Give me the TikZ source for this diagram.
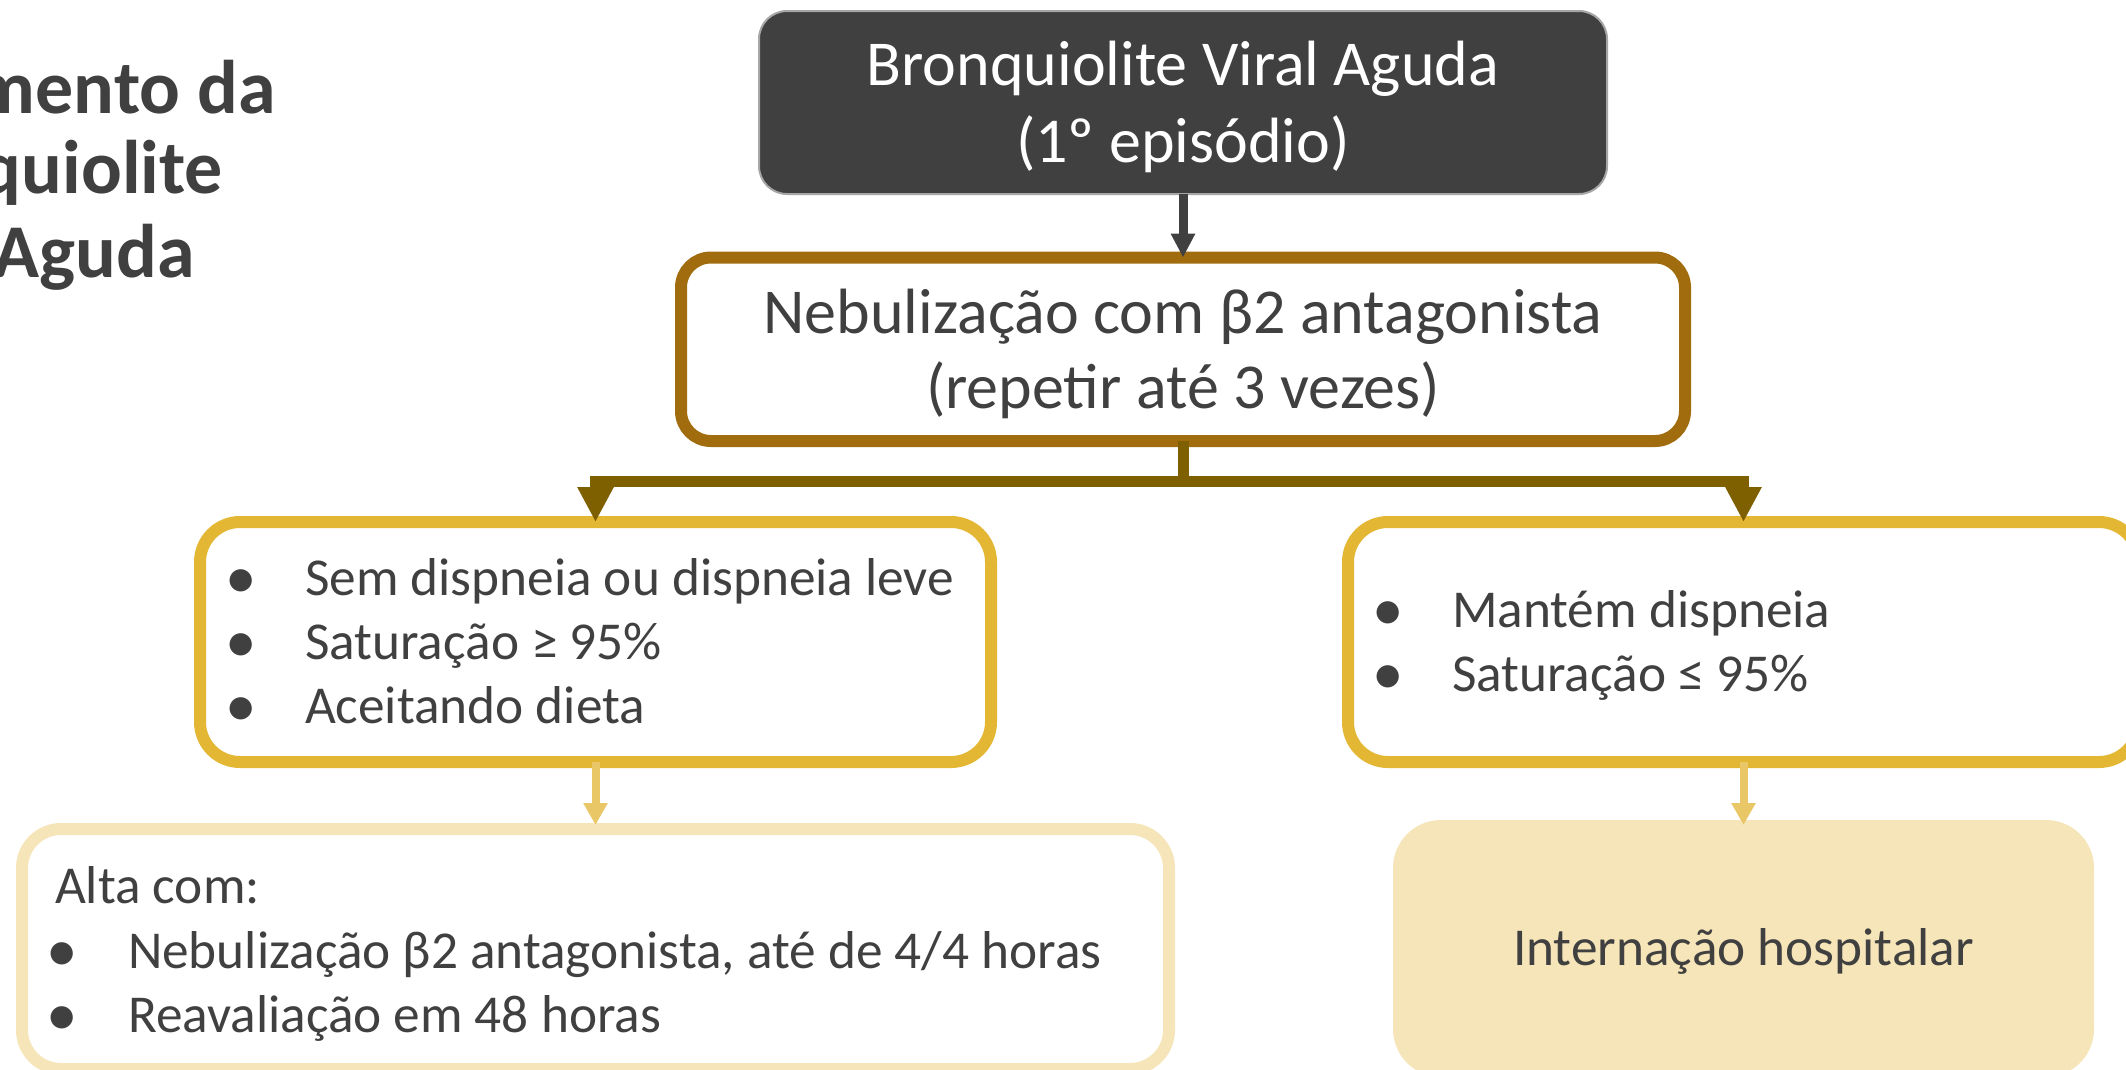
\documentclass[tikz,border=0pt]{standalone}
\usepackage{fontspec}
\setmainfont{Carlito}
\usetikzlibrary{arrows.meta}
\definecolor{txt}{HTML}{404040}
\definecolor{brownA}{HTML}{A06C0E}
\definecolor{brownB}{HTML}{7F6000}
\definecolor{gold}{HTML}{E3B733}
\definecolor{pale}{HTML}{F6E5B8}
\definecolor{lightarrow}{HTML}{E9C766}
\definecolor{boxgray}{HTML}{A6A6A6}
\begin{document}
\begin{tikzpicture}[x=1pt,y=-1pt,
  t63/.style={font=\fontsize{64}{77}\selectfont, text=txt, inner sep=0pt, outer sep=0pt},
  t52/.style={font=\fontsize{53.3}{64}\selectfont, text=txt, inner sep=0pt, outer sep=0pt},
  bul/.style={font=\fontsize{63}{63}\selectfont, text=txt, inner sep=0pt, outer sep=0pt, anchor=base, yshift=-3pt},
  ttl/.style={font=\fontsize{76}{84}\selectfont\bfseries, text=txt, inner sep=0pt, outer sep=0pt},
  shapebox/.style={rectangle, inner sep=0pt, outer sep=0pt},
  darkarrow/.style={line width=9pt, draw=txt, -{Triangle[width=23pt,length=24pt]}},
  bararrow/.style={line width=11pt, draw=brownB, line join=miter, -{Triangle[width=34pt,length=35pt]}},
  lightarr/.style={line width=8pt, draw=lightarrow, -{Triangle[width=23pt,length=22pt]}}
]
\useasboundingbox (0,0) rectangle (2126,1069);
\fill[white] (0,0) rectangle (2126,1069);

% title (cut at the left edge, as in the reference)
\node[ttl, anchor=base east] (ti1) at (276,113) {mento da};
\node[ttl, anchor=base east] (ti2) at (223,193) {quiolite};
\node[ttl, anchor=base east] (ti3) at (195,277) {Aguda};

% boxes
\node[shapebox, draw=boxgray, line width=2pt, fill=txt, rounded corners=28pt,
      minimum width=848pt, minimum height=183pt] (b1) at (1183,102.5) {};
\node[shapebox, draw=brownA, line width=12pt, fill=white, rounded corners=30pt,
      minimum width=1004pt, minimum height=183.5pt] (b2) at (1183,349.25) {};
\node[shapebox, draw=gold, line width=12pt, fill=white, rounded corners=40pt,
      minimum width=791pt, minimum height=240pt] (b3) at (595.5,642) {};
\node[shapebox, draw=gold, line width=12pt, fill=white, rounded corners=40pt,
      minimum width=791pt, minimum height=240pt] (b4) at (1743.5,642) {};
\node[shapebox, draw=pale, line width=12pt, fill=white, rounded corners=39pt,
      minimum width=1147pt, minimum height=240pt] (b5) at (595.5,949) {};
\node[shapebox, fill=pale, rounded corners=48pt,
      minimum width=701pt, minimum height=257pt] (b6) at (1743.5,948.5) {};

% texts
\node[t63, text=white, anchor=base] (l1a) at (1183,85) {Bronquiolite Viral Aguda};
\node[t63, text=white, anchor=base] (l1b) at (1183,162) {(1º episódio)};
\node[t63, anchor=base] (l2a) at (1183,333) {Nebulização com β2 antagonista};
\node[t63, anchor=base] (l2b) at (1183,408) {(repetir até 3 vezes)};

\node[bul] (u3a) at (241,595) {•};
\node[bul] (u3b) at (241,659) {•};
\node[bul] (u3c) at (241,723) {•};
\node[t52, anchor=base west] (l3a) at (305,595) {Sem dispneia ou dispneia leve};
\node[t52, anchor=base west] (l3b) at (305,659) {Saturação ≥ 95\%};
\node[t52, anchor=base west] (l3c) at (305,723) {Aceitando dieta};

\node[bul] (u4a) at (1388,627) {•};
\node[bul] (u4b) at (1388,691) {•};
\node[t52, anchor=base west] (l4a) at (1452,627) {Mantém dispneia};
\node[t52, anchor=base west] (l4b) at (1452,691) {Saturação ≤ 95\%};

\node[t52, anchor=base west] (l5a) at (55,903) {Alta com:};
\node[bul] (u5b) at (62,968) {•};
\node[bul] (u5c) at (62,1032) {•};
\node[t52, anchor=base west] (l5b) at (128,968) {Nebulização β2 antagonista, até de 4/4 horas};
\node[t52, anchor=base west] (l5c) at (128,1032) {Reavaliação em 48 horas};

\node[t52, anchor=base] (l6) at (1743.5,965) {Internação hospitalar};

% connectors
\coordinate (j) at (1183,481.5);
\draw[darkarrow] (b1.south) -- (b2.north);
\draw[line width=11pt, draw=brownB] (b2.south) -- (j);
\draw[bararrow] (j) -| (b3.north);
\draw[bararrow] (j) -| (b4.north);
\draw[lightarr, shorten >=4pt] (b3.south) -- (b5.north);
\draw[lightarr, shorten >=-5pt] (b4.south) -- (b6.north);
\end{tikzpicture}
\end{document}
